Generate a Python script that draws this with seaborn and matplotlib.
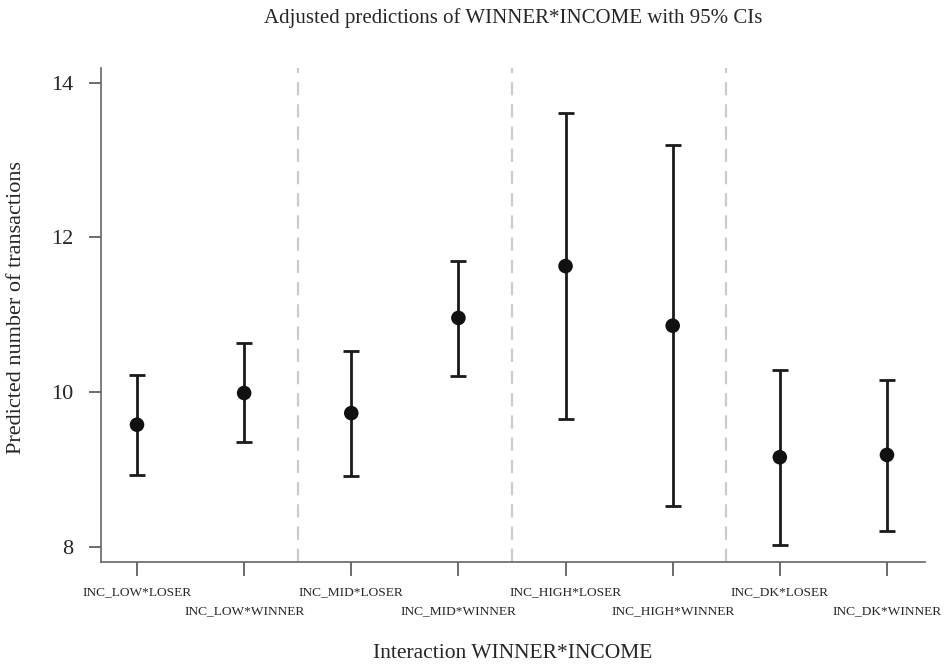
import matplotlib
matplotlib.use("Agg")
import matplotlib.pyplot as plt
import seaborn as sns
import pandas as pd

categories = ["INC_LOW*LOSER", "INC_LOW*WINNER", "INC_MID*LOSER", "INC_MID*WINNER",
              "INC_HIGH*LOSER", "INC_HIGH*WINNER", "INC_DK*LOSER", "INC_DK*WINNER"]
predicted = [9.58, 9.99, 9.73, 10.96, 11.63, 10.86, 9.16, 9.19]
ci_low = [8.93, 9.36, 8.92, 10.21, 9.66, 8.53, 8.03, 8.21]
ci_high = [10.22, 10.64, 10.53, 11.70, 13.61, 13.19, 10.29, 10.16]
y_ticks = [8, 10, 12, 14]
separators = [2.5, 4.5, 6.5]

df = pd.DataFrame({"pos": list(range(1, len(categories) + 1)),
                   "cat": categories, "pred": predicted,
                   "lo": ci_low, "hi": ci_high})

sns.set_style("white")
plt.rcParams["font.family"] = ["Liberation Serif", "DejaVu Serif"]

fig = plt.figure(figsize=(9.5, 6.64), dpi=100)
ax = fig.add_axes([101 / 950, 1 - 562 / 664, 824 / 950, 494 / 664])

for s in separators:
    ax.axvline(s, color="#cccccc", lw=1.6, ls=(0, (6, 4)), zorder=1)

ax.errorbar(df["pos"], df["pred"],
            yerr=[df["pred"] - df["lo"], df["hi"] - df["pred"]],
            fmt="none", ecolor="#1a1a1a", elinewidth=2.0, capsize=6,
            capthick=2.0, zorder=2)
sns.scatterplot(data=df, x="pos", y="pred", ax=ax, color="#111111",
                s=110, edgecolor="none", zorder=3, legend=False)

ax.set_xlim(0.664, 8.355)
ax.set_ylim(7.806, 14.19)
ax.set_yticks(y_ticks)
ax.set_yticklabels([str(t) for t in y_ticks], fontsize=16)
ax.set_xticks(df["pos"])
ax.set_xticklabels([""] * len(categories))
for i, (p, c) in enumerate(zip(df["pos"], categories)):
    off = 592 if i % 2 == 0 else 611
    ax.text(p, 1 - (off - 68) / 494, c, transform=ax.get_xaxis_transform(),
            ha="center", va="center", fontsize=9.6)

for side in ["top", "right"]:
    ax.spines[side].set_visible(False)
for side in ["left", "bottom"]:
    ax.spines[side].set_color("#666666")
    ax.spines[side].set_linewidth(1.2)
ax.tick_params(axis="y", left=True, direction="out", length=9, width=1.1,
               color="#444444", pad=11)
ax.tick_params(axis="x", bottom=True, direction="out", length=10, width=1.1,
               color="#444444")

ax.set_xlabel("")
ax.set_ylabel("")
fig.text(17 / 950, 1 - 308 / 664, "Predicted number of transactions",
         rotation=90, ha="center", va="center", fontsize=16)
fig.text(513 / 950, 1 - 654 / 664, "Interaction WINNER*INCOME",
         ha="center", va="center", fontsize=15.5)
fig.text(513 / 950, 1 - 18 / 664, "Adjusted predictions of WINNER*INCOME with 95% CIs",
         ha="center", va="center", fontsize=15)

fig.savefig("out.png", dpi=100)
